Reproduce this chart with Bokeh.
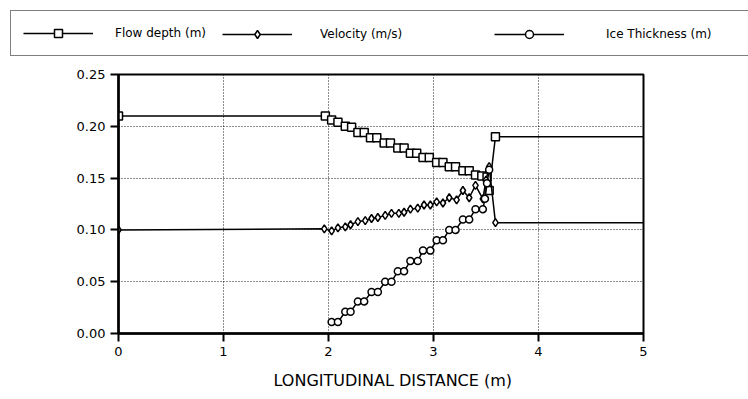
from bokeh.plotting import figure
from bokeh.layouts import column, row
from bokeh.models import Legend, LegendItem, FixedTicker, NumeralTickFormatter, Title, Range1d
from bokeh.embed import file_html
from bokeh.resources import INLINE

# ---- data ----
depth_x = [0.0, 1.97, 2.03, 2.09, 2.16, 2.22, 2.28, 2.34, 2.40, 2.46, 2.53, 2.59, 2.66, 2.72,
           2.78, 2.84, 2.90, 2.96, 3.03, 3.09, 3.15, 3.21, 3.28, 3.34, 3.40, 3.46, 3.51, 3.53,
           3.59, 5.0]
depth_y = [0.210, 0.210, 0.206, 0.204, 0.200, 0.199, 0.194, 0.194, 0.189, 0.189, 0.184, 0.184,
           0.179, 0.179, 0.174, 0.174, 0.170, 0.170, 0.165, 0.165, 0.161, 0.161, 0.157, 0.157,
           0.153, 0.152, 0.151, 0.138, 0.190, 0.190]

vel_x = [0.0, 1.96, 2.03, 2.09, 2.16, 2.21, 2.28, 2.35, 2.41, 2.47, 2.54, 2.60, 2.67, 2.72,
         2.78, 2.85, 2.91, 2.97, 3.03, 3.09, 3.15, 3.22, 3.28, 3.34, 3.40, 3.47, 3.50, 3.53,
         3.59, 5.0]
vel_y = [0.100, 0.101, 0.099, 0.102, 0.103, 0.105, 0.108, 0.109, 0.111, 0.112, 0.114, 0.116,
         0.116, 0.117, 0.120, 0.121, 0.124, 0.124, 0.127, 0.126, 0.131, 0.129, 0.138, 0.131,
         0.143, 0.130, 0.148, 0.161, 0.107, 0.107]

ice_x = [2.03, 2.09, 2.16, 2.21, 2.28, 2.34, 2.41, 2.47, 2.54, 2.60, 2.66, 2.72, 2.78, 2.85,
         2.90, 2.97, 3.03, 3.09, 3.15, 3.21, 3.28, 3.34, 3.40, 3.47, 3.49, 3.51, 3.53]
ice_y = [0.011, 0.011, 0.021, 0.021, 0.031, 0.031, 0.040, 0.040, 0.050, 0.050, 0.060, 0.060,
         0.070, 0.070, 0.080, 0.080, 0.090, 0.090, 0.100, 0.100, 0.110, 0.110, 0.120, 0.120,
         0.130, 0.145, 0.158]

x_ticks = [0, 1, 2, 3, 4, 5]
y_ticks = [0.00, 0.05, 0.10, 0.15, 0.20, 0.25]
series_labels = ["Flow depth (m)", "Velocity (m/s)", "Ice Thickness (m)"]
x_title = "LONGITUDINAL DISTANCE (m)"

FONT = "DejaVu Sans"
LEG_H = 60


def add_series(fig, visible=True):
    kw = dict(visible=visible)
    dl = fig.line(depth_x, depth_y, line_color="black", line_width=1.5, **kw)
    dm = fig.scatter(depth_x[:-1], depth_y[:-1], marker="square", size=8,
                     fill_color="white", line_color="black", line_width=1.5, **kw)
    vl = fig.line(vel_x, vel_y, line_color="black", line_width=1.5, **kw)
    vm = fig.scatter(vel_x[:-1], vel_y[:-1], marker="diamond", size=8,
                     fill_color="white", line_color="black", line_width=1.5, **kw)
    il = fig.line(ice_x, ice_y, line_color="black", line_width=1.5, **kw)
    im = fig.scatter(ice_x, ice_y, marker="circle", size=7,
                     fill_color="white", line_color="black", line_width=1.5, **kw)
    return [(dl, dm), (vl, vm), (il, im)]


# ---- main chart ----
p = figure(width=748, height=399 - LEG_H, output_backend="svg", toolbar_location=None,
           x_range=Range1d(0, 5), y_range=Range1d(0, 0.25),
           min_border_left=118, min_border_right=105, min_border_top=74 - LEG_H,
           min_border_bottom=66)
p.background_fill_color = "white"
p.border_fill_color = "white"
p.outline_line_color = "black"
p.outline_line_width = 2

for ax in (p.xaxis[0], p.yaxis[0]):
    ax.axis_line_width = 2.5
    ax.axis_line_color = "black"
    ax.major_tick_line_width = 2
    ax.major_tick_line_color = "black"
    ax.major_tick_out = 8
    ax.major_tick_in = 0
    ax.minor_tick_line_color = None
    ax.major_label_text_font = FONT
    ax.major_label_text_font_size = "13px"
    ax.major_label_text_color = "black"
    ax.major_label_standoff = 5

p.xaxis[0].ticker = FixedTicker(ticks=x_ticks)
p.yaxis[0].ticker = FixedTicker(ticks=y_ticks)
p.yaxis[0].formatter = NumeralTickFormatter(format="0.00")

for g in (p.xgrid[0], p.ygrid[0]):
    g.grid_line_color = "black"
    g.grid_line_width = 1
    g.grid_line_dash = "1 2"
    g.grid_line_alpha = 0.9

add_series(p)

p.add_layout(Title(text=x_title, align="left", offset=155, text_font=FONT,
                   text_font_size="16px", text_font_style="normal", text_color="black",
                   standoff=20), "below")

# ---- legend strip above the chart ----
lg = figure(width=748, height=LEG_H, output_backend="svg", toolbar_location=None,
            x_range=Range1d(0, 5), y_range=Range1d(0, 0.25),
            x_axis_location=None, y_axis_location=None,
            min_border_left=0, min_border_right=0, min_border_top=0, min_border_bottom=0)
lg.grid.visible = False
lg.outline_line_color = None
lg.background_fill_color = "white"
lg.border_fill_color = "white"
pairs = add_series(lg, visible=False)

leg_common = dict(orientation="horizontal", glyph_width=70, glyph_height=20, padding=12,
                  margin=0, spacing=0, label_text_font=FONT, label_text_font_size="12px",
                  label_text_color="black")
y0 = LEG_H - 12 - 44
# first legend also carries the frame that runs past the right edge
leg_a = Legend(items=[LegendItem(label=series_labels[0], renderers=list(pairs[0]))],
               location=(10, y0), label_standoff=22, label_width=630,
               border_line_color="black", border_line_width=1,
               background_fill_color="white", background_fill_alpha=1.0, **leg_common)
leg_b = Legend(items=[LegendItem(label=series_labels[1], renderers=list(pairs[1]))],
               location=(210, y0), label_standoff=28, border_line_color="white",
               border_line_alpha=0.0, background_fill_alpha=0.0, **leg_common)
leg_c = Legend(items=[LegendItem(label=series_labels[2], renderers=list(pairs[2]))],
               location=(482, y0), label_standoff=42, border_line_color="white",
               border_line_alpha=0.0, background_fill_alpha=0.0, **leg_common)
for lgd in (leg_a, leg_b, leg_c):
    lg.add_layout(lgd, "center")

layout = column(row(lg), p, spacing=0)
open("out.html", "w").write(file_html(layout, INLINE))
